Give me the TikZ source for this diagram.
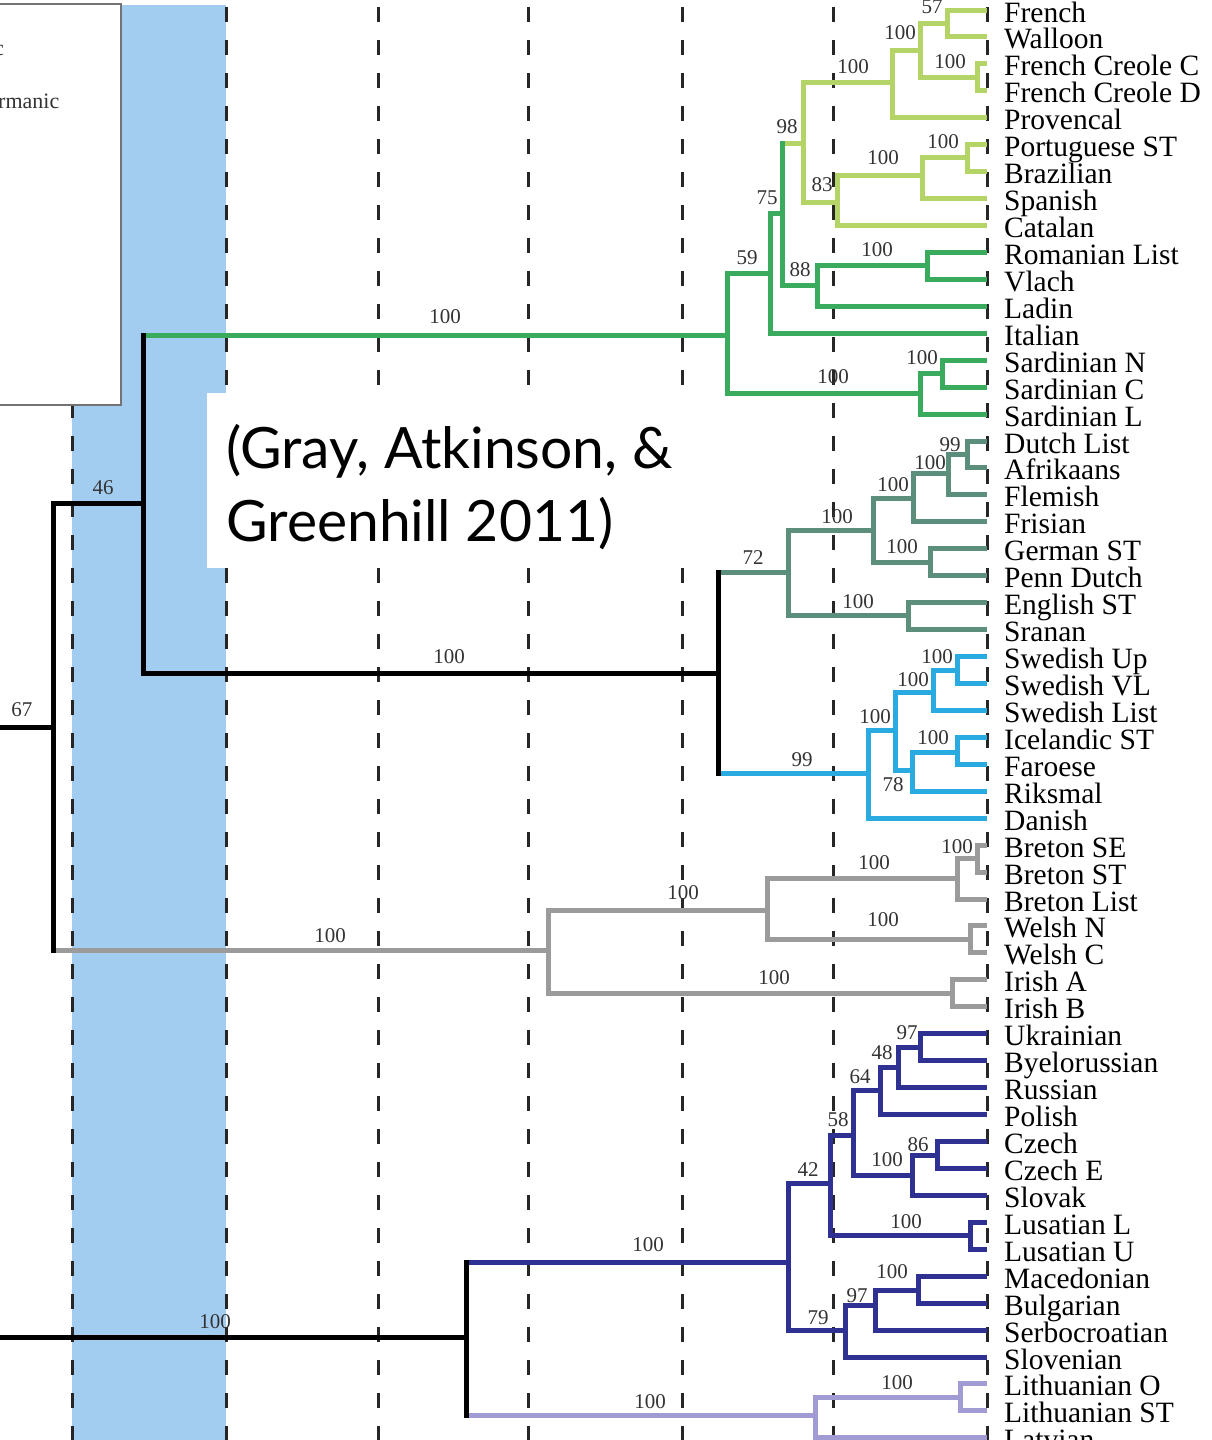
\documentclass[tikz,border=0pt]{standalone}
\usepackage{fontspec}
\setmainfont{Liberation Serif}
\newfontfamily\citefont{Lato}
\definecolor{lgreen}{HTML}{B4D468}
\definecolor{mgreen}{HTML}{3AAA5C}
\definecolor{teal}{HTML}{5B8F7C}
\definecolor{cyanb}{HTML}{29ABE2}
\definecolor{greyc}{HTML}{9B9B9B}
\definecolor{navy}{HTML}{2E3191}
\definecolor{lav}{HTML}{A09CD3}
\definecolor{band}{HTML}{A3CDF0}
\tikzset{
  br/.style={line width=5pt, line join=miter},
  leaf/.style={font=\fontsize{29.5}{30}\selectfont, inner sep=0pt, anchor=base west},
  bs/.style={font=\fontsize{21}{22}\selectfont, inner sep=0pt, text=black!80},
  gridline/.style={line width=3pt, dash pattern=on 15pt off 18pt, black!85},
  citetext/.style={font=\citefont\fontsize{57}{60}\selectfont, inner sep=0pt, anchor=base west},
}
\begin{document}
\begin{tikzpicture}[x=1pt,y=-1pt]
\useasboundingbox (0,0) rectangle (1211,1440);
\clip (0,0) rectangle (1211,1440);
\fill[white] (0,0) rectangle (1211,1440);
% blue band
\fill[band] (72,5) rectangle (226,1440);
% dashed guide lines
\foreach \x in {72,226,378,528,682,833,987}
  \draw[gridline] (\x,7) -- (\x,1440);
% leaves
\foreach \t [count=\i from 0] in {French, Walloon, French Creole C, French Creole D, Provencal, Portuguese ST, Brazilian, Spanish, Catalan, Romanian List, Vlach, Ladin, Italian, Sardinian N, Sardinian C, Sardinian L, Dutch List, Afrikaans, Flemish, Frisian, German ST, Penn Dutch, English ST, Sranan, Swedish Up, Swedish VL, Swedish List, Icelandic ST, Faroese, Riksmal, Danish, Breton SE, Breton ST, Breton List, Welsh N, Welsh C, Irish A, Irish B, Ukrainian, Byelorussian, Russian, Polish, Czech, Czech E, Slovak, Lusatian L, Lusatian U, Macedonian, Bulgarian, Serbocroatian, Slovenian, Lithuanian O, Lithuanian ST, Latvian}{
  \coordinate (L\i) at (987,{10+26.94*\i});
  \node[leaf] (T\i) at ([xshift=17pt,yshift=-12pt]L\i) {\t};
}
% internal nodes
\coordinate (e67) at (0,727);
\coordinate (n67) at (53,727);
\coordinate (n46) at (143,503);
\coordinate (nA) at (727,335);
\coordinate (nB) at (770,273);
\coordinate (nC) at (782,213);
\coordinate (nD) at (803,143);
\coordinate (nF) at (892,82);
\coordinate (nH) at (920,50);
\coordinate (nI) at (947,23);
\coordinate (nJ) at (977,77);
\coordinate (nG) at (837,202);
\coordinate (nK) at (922,175);
\coordinate (nL) at (967,157);
\coordinate (nE) at (817,285);
\coordinate (nM) at (927,265);
\coordinate (nSard) at (920,393);
\coordinate (nN) at (942,373);
\coordinate (nGer) at (718,673);
\coordinate (nWG) at (788,572);
\coordinate (nO) at (873,530);
\coordinate (nQ) at (913,498);
\coordinate (nS) at (948,473);
\coordinate (nT) at (967,454);
\coordinate (nR) at (930,562);
\coordinate (nP) at (908,615);
\coordinate (nNG) at (868,773);
\coordinate (nU) at (895,730);
\coordinate (nV) at (933,692);
\coordinate (nX) at (957,670);
\coordinate (nW) at (912,770);
\coordinate (nY) at (957,752);
\coordinate (nCel) at (548,950);
\coordinate (nZ) at (767,910);
\coordinate (nBr) at (957,878);
\coordinate (nBr2) at (977,858);
\coordinate (nW2) at (970,939);
\coordinate (nIr) at (952,993);
\coordinate (e100) at (0,1337);
\coordinate (n100) at (466,1337);
\coordinate (nSl) at (788,1262);
\coordinate (n42) at (830,1183);
\coordinate (n58) at (853,1135);
\coordinate (n64) at (880,1090);
\coordinate (n48) at (898,1067);
\coordinate (n97) at (920,1047);
\coordinate (nCz) at (912,1175);
\coordinate (n86) at (937,1155);
\coordinate (nLus) at (970,1235);
\coordinate (nSS) at (845,1330);
\coordinate (n97b) at (875,1305);
\coordinate (n100m) at (918,1290);
\coordinate (nBal) at (815,1415);
\coordinate (nLit) at (960,1397);
% edges
\foreach \p/\c in {nC/nD, nD/nF, nD/nG, nF/nH, nF/L4, nH/nI, nH/nJ, nI/L0, nI/L1, nJ/L2, nJ/L3, nG/nK, nG/L8, nK/nL, nK/L7, nL/L5, nL/L6}
  \draw[br,lgreen] (\p) |- (\c);
\foreach \p/\c in {n46/nA, nA/nB, nA/nSard, nB/nC, nB/L12, nC/nE, nE/nM, nE/L11, nM/L9, nM/L10, nSard/nN, nSard/L15, nN/L13, nN/L14}
  \draw[br,mgreen] (\p) |- (\c);
\draw[br,mgreen,line cap=rect] (nC |- nD) -- (nC |- nE);
\foreach \p/\c in {nGer/nWG, nWG/nO, nWG/nP, nO/nQ, nO/nR, nQ/nS, nQ/L19, nS/nT, nS/L18, nT/L16, nT/L17, nR/L20, nR/L21, nP/L22, nP/L23}
  \draw[br,teal] (\p) |- (\c);
\foreach \p/\c in {nGer/nNG, nNG/nU, nNG/L30, nU/nV, nU/nW, nV/nX, nV/L26, nX/L24, nX/L25, nW/nY, nW/L29, nY/L27, nY/L28}
  \draw[br,cyanb] (\p) |- (\c);
\foreach \p/\c in {n67/nCel, nCel/nZ, nCel/nIr, nZ/nBr, nZ/nW2, nBr/nBr2, nBr/L33, nBr2/L31, nBr2/L32, nW2/L34, nW2/L35, nIr/L36, nIr/L37}
  \draw[br,greyc] (\p) |- (\c);
\foreach \p/\c in {n100/nSl, nSl/n42, nSl/nSS, n42/n58, n42/nLus, n58/n64, n58/nCz, n64/n48, n64/L41, n48/n97, n48/L40, n97/L38, n97/L39, nCz/n86, nCz/L44, n86/L42, n86/L43, nLus/L45, nLus/L46, nSS/n97b, nSS/L50, n97b/n100m, n97b/L49, n100m/L47, n100m/L48}
  \draw[br,navy] (\p) |- (\c);
\foreach \p/\c in {n100/nBal, nBal/nLit, nBal/L53, nLit/L51, nLit/L52}
  \draw[br,lav] (\p) |- (\c);
\foreach \p/\c in {n67/n46, n46/nGer}
  \draw[br,black] (\p) |- (\c);
\draw[br,black] (e67) -- (n67);
\draw[br,black] (e100) -- (n100);
% black verticals
\draw[br,black,line cap=rect] (n67 |- n46) -- (n67 |- nCel);
\draw[br,black,line cap=rect] (n46 |- nA) -- (n46 |- nGer);
\draw[br,black,line cap=rect] (nGer |- nWG) -- (nGer |- nNG);
\draw[br,black,line cap=rect] (n100 |- nSl) -- (n100 |- nBal);
% support labels
\foreach \x/\y/\t [count=\k] in {932/7/57, 900/33/100, 853/67/100, 950/62/100, 787/127/98, 943/142/100, 883/158/100, 822/185/83, 767/198/75, 747/258/59, 877/250/100, 800/270/88, 922/358/100, 833/377/100, 445/317/100, 103/488/46, 22/710/67, 950/445/99, 930/463/100, 893/485/100, 837/517/100, 753/558/72, 902/547/100, 858/602/100, 449/657/100, 937/657/100, 913/680/100, 875/717/100, 933/738/100, 802/760/99, 893/785/78, 957/847/100, 874/863/100, 683/893/100, 883/920/100, 330/936/100, 774/978/100, 907/1033/97, 882/1053/48, 860/1077/64, 838/1120/58, 887/1160/100, 918/1145/86, 808/1170/42, 906/1222/100, 648/1245/100, 892/1272/100, 857/1296/97, 818/1318/79, 215/1322/100, 897/1383/100, 650/1402/100}
  \node[bs] (s\k) at (\x,\y) {\t};
% legend box (cut off)
\draw[fill=white, draw=black!55, line width=2pt] (-10,4) rectangle (121,405);
\node[font=\fontsize{22}{24}\selectfont, inner sep=0pt, anchor=base west, text=black!80] (leg1) at (-6,55) {c};
\node[font=\fontsize{22}{24}\selectfont, inner sep=0pt, anchor=base west, text=black!80] (leg2) at (-2,108) {rmanic};
% citation box
\fill[white] (207,393) rectangle (692,568);
\node[citetext] (cite1) at (226,468) {(Gray, Atkinson, \&};
\node[citetext] (cite2) at (226,541) {Greenhill 2011)};
\end{tikzpicture}
\end{document}
